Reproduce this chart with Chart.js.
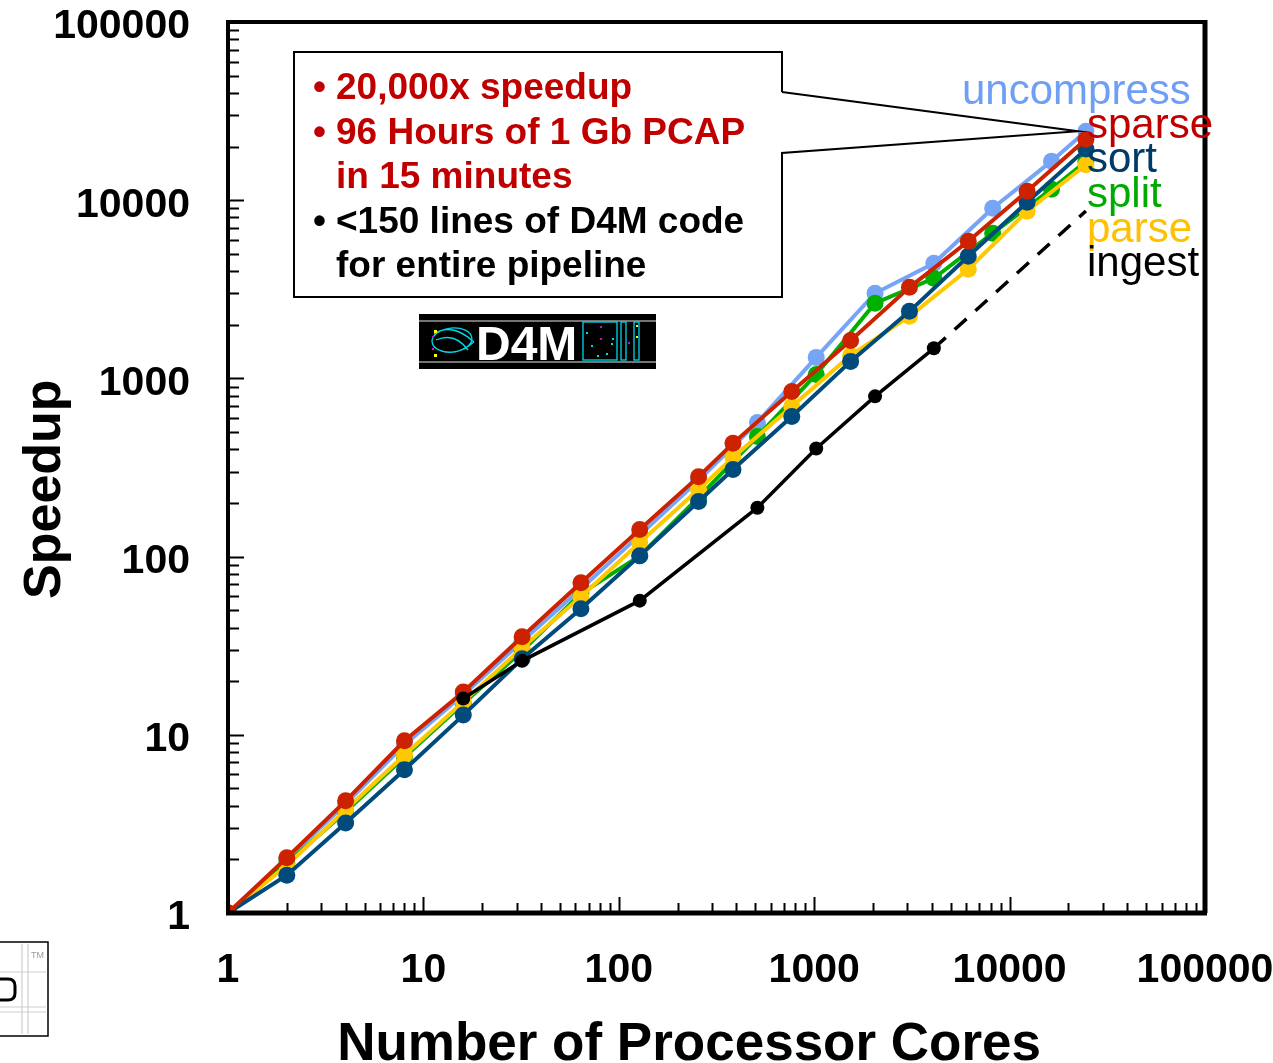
<!DOCTYPE html>
<html>
<head>
<meta charset="utf-8">
<title>Speedup vs Number of Processor Cores</title>
<script src="https://cdn.jsdelivr.net/npm/chart.js"></script>
<style>
  html, body { margin: 0; padding: 0; background: #fff; }
  #wrap { width: 1273px; height: 1063px; }
</style>
</head>
<body>
<div id="wrap"><canvas id="chart" width="1273" height="1063"></canvas></div>
<script>
// core counts used by each group of runs
var cores       = [1, 2, 4, 8, 16, 32, 64, 128, 256, 384, 768, 1536, 3072, 6144, 12288, 24576];
var coresB      = [1, 2, 4, 8, 16, 32, 64, 128, 256, 512, 1024, 2048, 4096, 8192, 16384, 24576];
var coresIngest = [16, 32, 128, 512, 1024, 2048, 4096];
var coresIngestExtrap = [4096, 24576];

// speedup values
var sparse     = [1, 2.04, 4.26, 9.25, 17.4, 35.5, 71.4, 142, 281, 432, 845, 1634, 3245, 5884, 11240, 22000];
var sort       = [1, 1.63, 3.2, 6.36, 12.9, 26.7, 51, 101, 204, 308, 612, 1246, 2378, 4845, 9750, 19350];
var parse      = [1, 1.85, 3.8, 7.7, 15.3, 30.8, 59.6, 120, 238, 360, 696, 1346, 2230, 4095, 8670, 15800];
var uncompress = [1, 2.0, 4.1, 8.8, 16.8, 33.5, 66, 132, 268, 566, 1312, 3005, 4425, 9020, 16560, 24400];
var split      = [1, 1.9, 3.7, 7.5, 15, 29.5, 62, 101, 215, 472, 1052, 2640, 3645, 6530, 11530, 16500];
var ingest     = [16, 26, 56.6, 188, 404, 793, 1475];
var ingestExtrap = [1475, 8700];

var decadeTicks = [1, 10, 100, 1000, 10000, 100000];

var seriesNames = ['uncompress', 'sparse', 'sort', 'split', 'parse', 'ingest'];
var noteLines = [
  ['• ', '20,000x speedup', '#c00000'],
  ['• ', '96 Hours of 1 Gb PCAP', '#c00000'],
  ['', 'in 15 minutes', '#c00000'],
  ['• ', '<150 lines of D4M code', '#000'],
  ['', 'for entire pipeline', '#000']
];

function pts(xs, ys) {
  return xs.map(function (x, i) { return { x: x, y: ys[i] }; });
}

function series(label, xs, ys, color, width, radius) {
  return {
    label: label,
    data: pts(xs, ys),
    borderColor: color,
    backgroundColor: color,
    pointBackgroundColor: color,
    pointBorderColor: color,
    borderWidth: width,
    pointRadius: radius,
    pointBorderWidth: 0,
    tension: 0
  };
}

var C_UNC = '#76a5f8', C_SPA = '#cc2200', C_SORT = '#004a7c', C_SPL = '#00b000', C_PAR = '#ffc800';
var textColors = ['#6f9ff5', '#c00000', '#003a66', '#00aa00', '#ffc000', '#000'];

var dashed = series('ingest-extrapolated', coresIngestExtrap, ingestExtrap, '#000', 3.5, 0);
dashed.borderDash = [16, 12];

// drawing order: first dataset ends on top
var datasets = [
  series('ingest', coresIngest, ingest, '#000', 3.5, 7),
  dashed,
  series('sparse', cores, sparse, C_SPA, 4, 8.5),
  series('sort', cores, sort, C_SORT, 4, 8.5),
  series('parse', cores, parse, C_PAR, 4, 8.5),
  series('split', coresB, split, C_SPL, 4, 8.5),
  series('uncompress', coresB, uncompress, C_UNC, 4, 8.5)
];

function decadesOnly(scale) {
  scale.ticks = decadeTicks.map(function (v) { return { value: v }; });
}

var frame = {
  id: 'frame',
  afterDatasetsDraw: function (chart) {
    var ctx = chart.ctx, a = chart.chartArea;
    var xs = chart.scales.x, ys = chart.scales.y;
    ctx.save();

    // inward tick marks
    ctx.strokeStyle = '#000';
    ctx.lineWidth = 2;
    for (var d = 1; d < 100000; d *= 10) {
      for (var k = 1; k < 10; k++) {
        var v = d * k;
        var major = k === 1;
        var px = Math.round(xs.getPixelForValue(v)) + 0.5;
        var py = Math.round(ys.getPixelForValue(v)) + 0.5;
        ctx.beginPath();
        ctx.moveTo(px, a.bottom);
        ctx.lineTo(px, a.bottom - (major ? 16 : 10));
        ctx.moveTo(a.left, py);
        ctx.lineTo(a.left + (major ? 16 : 11), py);
        ctx.stroke();
      }
    }

    // frame
    ctx.lineWidth = 4;
    ctx.strokeRect(a.left, a.top, a.right - a.left, a.bottom - a.top);
    ctx.lineWidth = 5;
    ctx.beginPath();
    ctx.moveTo(a.left - 2, a.bottom);
    ctx.lineTo(a.right + 2, a.bottom);
    ctx.moveTo(a.right, a.top - 2);
    ctx.lineTo(a.right, a.bottom);
    ctx.stroke();

    // series labels by the end points
    ctx.textBaseline = 'middle';
    ctx.textAlign = 'left';
    ctx.font = '42px "Liberation Sans", Arial, sans-serif';
    var labX = [962, 1087, 1087, 1087, 1087, 1087];
    var labY = [92, 126, 160, 195, 230, 264];
    seriesNames.forEach(function (n, i) {
      ctx.fillStyle = textColors[i];
      ctx.fillText(n, labX[i], labY[i]);
    });

    // callout box
    var tipX = xs.getPixelForValue(24576) - 8;
    var tipY = ys.getPixelForValue(24400);
    var bx = 294, by = 52, bw = 488, bh = 245;
    ctx.fillStyle = '#fff';
    ctx.fillRect(bx, by, bw, bh);
    ctx.strokeStyle = '#000';
    ctx.lineWidth = 2;
    ctx.beginPath();
    ctx.moveTo(bx + bw, by + 40);
    ctx.lineTo(bx + bw, by);
    ctx.lineTo(bx, by);
    ctx.lineTo(bx, by + bh);
    ctx.lineTo(bx + bw, by + bh);
    ctx.lineTo(bx + bw, by + 101);
    ctx.lineTo(tipX, tipY);
    ctx.lineTo(bx + bw, by + 40);
    ctx.stroke();

    ctx.font = 'bold 37px "Liberation Sans", Arial, sans-serif';
    noteLines.forEach(function (ln, i) {
      var y = 89 + i * 44.5;
      ctx.fillStyle = ln[2];
      if (ln[0]) ctx.fillText('•', 313, y);
      ctx.fillText(ln[1], 336, y);
    });

    // D4M logo
    ctx.fillStyle = '#000';
    ctx.fillRect(419, 314, 237, 55);
    ctx.strokeStyle = '#9a9a9a';
    ctx.lineWidth = 1.5;
    ctx.beginPath();
    ctx.moveTo(419, 321); ctx.lineTo(656, 321);
    ctx.moveTo(419, 362); ctx.lineTo(656, 362);
    ctx.stroke();
    ctx.fillStyle = '#fff';
    ctx.font = 'bold 48px "Liberation Sans", Arial, sans-serif';
    ctx.textBaseline = 'alphabetic';
    ctx.fillText('D4M', 476, 360);
    ctx.strokeStyle = '#00d8e8';
    ctx.lineWidth = 1.3;
    ctx.beginPath();
    ctx.ellipse(452, 340, 20, 12, -0.1, 0, Math.PI * 2);
    ctx.moveTo(434, 334); ctx.quadraticCurveTo(452, 322, 474, 342);
    ctx.moveTo(434, 347); ctx.quadraticCurveTo(452, 360, 474, 342);
    ctx.moveTo(436, 340); ctx.quadraticCurveTo(455, 332, 468, 350);
    ctx.stroke();
    ctx.strokeRect(583, 322, 34, 38);
    ctx.strokeRect(621, 322, 5, 38);
    ctx.strokeRect(634, 322, 5, 38);
    ctx.fillStyle = '#00d8e8';
    [[586, 332], [591, 345], [597, 355], [606, 353], [612, 338], [611, 343]].forEach(function (p) {
      ctx.fillRect(p[0], p[1], 2, 2);
    });
    ctx.fillStyle = '#e000e0';
    [[600, 326], [600, 338], [432, 336], [432, 348], [628, 342]].forEach(function (p) {
      ctx.fillRect(p[0], p[1], 2, 2);
    });
    ctx.fillStyle = '#ffff00';
    ctx.fillRect(636, 325, 2, 2);
    ctx.fillRect(636, 336, 2, 2);
    ctx.fillRect(434, 330, 3, 3);
    ctx.fillRect(434, 354, 3, 3);

    // corner logo, bottom left
    ctx.strokeStyle = '#000';
    ctx.lineWidth = 1.5;
    ctx.strokeRect(-2, 942, 50, 94);
    ctx.strokeStyle = '#cfcfcf';
    ctx.lineWidth = 1.2;
    ctx.beginPath();
    ctx.moveTo(22, 944); ctx.lineTo(22, 1034);
    ctx.moveTo(28, 944); ctx.lineTo(28, 1034);
    ctx.moveTo(0, 972); ctx.lineTo(46, 972);
    ctx.moveTo(0, 1007); ctx.lineTo(46, 1007);
    ctx.moveTo(0, 1012); ctx.lineTo(46, 1012);
    ctx.stroke();
    ctx.strokeStyle = '#000';
    ctx.lineWidth = 3;
    ctx.beginPath();
    ctx.moveTo(0, 979); ctx.lineTo(8, 979);
    ctx.quadraticCurveTo(15, 979, 15, 986);
    ctx.lineTo(15, 993);
    ctx.quadraticCurveTo(15, 1000, 8, 1000);
    ctx.lineTo(0, 1000);
    ctx.stroke();
    ctx.fillStyle = '#999';
    ctx.font = '9px "Liberation Sans", Arial, sans-serif';
    ctx.fillText('TM', 31, 958);

    ctx.restore();
  }
};

new Chart(document.getElementById('chart').getContext('2d'), {
  type: 'line',
  data: { datasets: datasets },
  options: {
    responsive: false,
    animation: false,
    layout: { padding: { left: 0, top: 22, right: 68, bottom: 0 } },
    plugins: { legend: { display: false }, tooltip: { enabled: false } },
    scales: {
      x: {
        type: 'logarithmic',
        min: 1,
        max: 100000,
        afterBuildTicks: decadesOnly,
        afterFit: function (s) { s.height = 150; s.paddingLeft = 0; s.paddingRight = 0; },
        grid: { display: false, drawTicks: false },
        border: { display: false },
        ticks: {
          padding: 33,
          maxRotation: 0,
          autoSkip: false,
          color: '#000',
          font: { family: '"Liberation Sans", Arial, sans-serif', size: 41, weight: 'bold' },
          callback: function (v) { return String(v); }
        },
        title: {
          display: true,
          text: 'Number of Processor Cores   \u2009',
          color: '#000',
          font: { family: '"Liberation Sans", Arial, sans-serif', size: 53, weight: 'bold', lineHeight: 1 },
          padding: { top: 0, bottom: -9 }
        }
      },
      y: {
        type: 'logarithmic',
        min: 1,
        max: 100000,
        afterBuildTicks: decadesOnly,
        afterFit: function (s) { s.width = 228; s.paddingTop = 0; s.paddingBottom = 0; },
        grid: { display: false, drawTicks: false },
        border: { display: false },
        ticks: {
          padding: 38,
          labelOffset: 5,
          autoSkip: false,
          color: '#000',
          font: { family: '"Liberation Sans", Arial, sans-serif', size: 41, weight: 'bold' },
          callback: function (v) { return String(v); }
        },
        title: {
          display: true,
          text: 'Speedup   ',
          color: '#000',
          font: { family: '"Liberation Sans", Arial, sans-serif', size: 52, weight: 'bold', lineHeight: 1 },
          padding: { top: 20, bottom: 0 }
        }
      }
    }
  },
  plugins: [frame]
});
</script>
</body>
</html>
